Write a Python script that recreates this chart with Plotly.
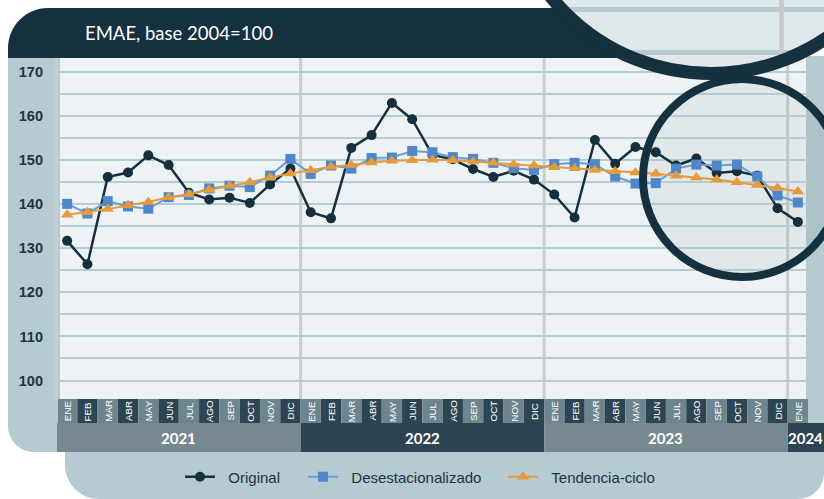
import plotly.graph_objects as go

# ---------------- data ----------------
months = ["ENE", "FEB", "MAR", "ABR", "MAY", "JUN", "JUL", "AGO", "SEP", "OCT", "NOV", "DIC"]
years = ["2021", "2022", "2023", "2024"]
month_labels = months * 3 + ["ENE"]
x_idx = list(range(len(month_labels)))

original = [131.7, 126.4, 146.2, 147.2, 151.1, 148.9, 142.6, 141.1, 141.5, 140.3, 144.5, 148.1,
            138.2, 136.8, 152.8, 155.7, 163.0, 159.3, 151.2, 150.2, 148.0, 146.2, 147.6, 145.6,
            142.2, 137.0, 154.6, 149.2, 153.0, 151.8, 148.8, 150.4, 147.1, 147.5, 146.5, 139.1, 136.0]
desestacionalizado = [140.1, 137.9, 140.7, 139.5, 139.0, 141.6, 142.1, 143.6, 144.2, 143.9, 146.5, 150.3,
                      146.9, 148.8, 148.1, 150.5, 150.6, 152.1, 151.8, 150.7, 150.3, 149.4, 148.2, 147.8,
                      149.1, 149.4, 149.1, 146.3, 144.7, 144.8, 148.1, 149.0, 148.8, 149.0, 146.3, 142.0, 140.4]
tendencia = [137.6, 138.2, 138.9, 139.8, 140.5, 141.6, 142.3, 143.3, 144.2, 145.0, 146.1, 147.0,
             147.7, 148.5, 148.9, 149.5, 149.9, 150.0, 150.1, 150.0, 149.7, 149.4, 149.0, 148.8,
             148.4, 148.2, 147.8, 147.5, 147.2, 146.9, 146.5, 146.1, 145.6, 145.0, 144.4, 143.7, 142.9]

y_ticks = list(range(100, 171, 5))
y_ticktext = [str(v) if v % 10 == 0 else "" for v in y_ticks]

# ---------------- geometry helpers ----------------
W, H = 824, 499
ML, MR, MT, MB = 58, 16, 58, 100
PW, PH = W - ML - MR, H - MT - MB
XMIN, XMAX = -0.45, 36.5
YMIN, YMAX = 95.8, 173.2


def PX(x):
    return (x - ML) / PW


def PY(y):
    return (MT + PH - y) / PH


def D2P(i):
    return (i - XMIN) / (XMAX - XMIN)


def pt(x, y):
    return f"{PX(x):.5f},{PY(y):.5f}"


def rrect(x0, y0, x1, y1, tl=0, tr=0, br=0, bl=0):
    k = 0.5523
    p = f"M{pt(x0 + tl, y0)} L{pt(x1 - tr, y0)} "
    if tr:
        p += f"C{pt(x1 - tr + tr * k, y0)} {pt(x1, y0 + tr - tr * k)} {pt(x1, y0 + tr)} "
    p += f"L{pt(x1, y1 - br)} "
    if br:
        p += f"C{pt(x1, y1 - br + br * k)} {pt(x1 - br + br * k, y1)} {pt(x1 - br, y1)} "
    p += f"L{pt(x0 + bl, y1)} "
    if bl:
        p += f"C{pt(x0 + bl - bl * k, y1)} {pt(x0, y1 - bl + bl * k)} {pt(x0, y1 - bl)} "
    p += f"L{pt(x0, y0 + tl)} "
    if tl:
        p += f"C{pt(x0, y0 + tl - tl * k)} {pt(x0 + tl - tl * k, y0)} {pt(x0 + tl, y0)} "
    return p + "Z"


def circ(cx, cy, r, **kw):
    return dict(type="circle", xref="paper", yref="paper",
                x0=PX(cx - r), x1=PX(cx + r), y0=PY(cy + r), y1=PY(cy - r), **kw)


DARK = "#15303f"
BAND = "#b6cbd1"
SANS = "Liberation Sans, Arial, Helvetica"
TITLEF = "Lato, Roboto, Liberation Sans"

shapes = []
# side bands / legend region (below the axis labels)
shapes.append(dict(type="path", xref="paper", yref="paper", layer="below",
                   path=rrect(8, 50, 60, 452, bl=26), fillcolor=BAND, line_width=0))
shapes.append(dict(type="path", xref="paper", yref="paper", layer="below",
                   path=rrect(806, 56, 824, 470), fillcolor=BAND, line_width=0))
shapes.append(dict(type="path", xref="paper", yref="paper", layer="below",
                   path=rrect(65, 450, 824, 499, bl=34, br=26), fillcolor=BAND, line_width=0))
# title band
shapes.append(dict(type="path", xref="paper", yref="paper", layer="below",
                   path=rrect(8, 8, 730, 58, tl=40), fillcolor=DARK, line_width=0))
# left border of panel
shapes.append(dict(type="line", xref="paper", yref="paper", layer="above",
                   x0=PX(56.5), x1=PX(56.5), y0=0, y1=1, line=dict(color="#c9cdd0", width=3)))
# year separators
for s in [11.5, 23.5, 35.5]:
    shapes.append(dict(type="line", xref="x", yref="paper", layer="between",
                       x0=s, x1=s, y0=0, y1=1, line=dict(color="#cbcccd", width=3)))

# big lens (top right)
BCX, BCY = 711, -132
shapes.append(circ(BCX, BCY, 208, layer="above", fillcolor="#dfe8eb", line_width=0))
shapes.append(dict(type="line", xref="paper", yref="paper", layer="above",
                   x0=PX(560), x1=PX(860), y0=PY(9.5), y1=PY(9.5), line=dict(color=BAND, width=5)))
shapes.append(dict(type="line", xref="paper", yref="paper", layer="above",
                   x0=PX(620), x1=PX(800), y0=PY(52.5), y1=PY(52.5), line=dict(color=BAND, width=5)))
shapes.append(dict(type="line", xref="paper", yref="paper", layer="above",
                   x0=PX(781.5), x1=PX(781.5), y0=PY(0), y1=PY(60), line=dict(color="#c9c9ca", width=4.5)))
shapes.append(circ(BCX, BCY, 205.5, layer="above", fillcolor="rgba(0,0,0,0)",
                   line=dict(color=DARK, width=13)))

# small lens
SCX, SCY = 742, 178
shapes.append(circ(SCX, SCY, 99, layer="between", fillcolor="rgba(20,60,75,0.06)", line_width=0))
shapes.append(circ(SCX, SCY, 99, layer="above", fillcolor="rgba(0,0,0,0)",
                   line=dict(color=DARK, width=8)))

# month cells
for i, m in enumerate(month_labels):
    shapes.append(dict(type="rect", xref="x", yref="paper", layer="above",
                       x0=i - 0.5, x1=i + 0.5, y0=PY(423), y1=PY(399),
                       fillcolor="#6d858e" if i % 2 == 0 else "#2d4553", line_width=0))

# year cells
year_spans = [(-0.5, 11.5), (11.5, 23.5), (23.5, 35.5), (35.5, None)]
year_cols = ["#76898f", "#2d4553", "#76898f", "#2d4553"]
annotations = []
for (a, b), col, yr in zip(year_spans, year_cols, years):
    x0 = D2P(a)
    x1 = D2P(b) if b is not None else PX(W)
    shapes.append(dict(type="rect", xref="paper", yref="paper", layer="above",
                       x0=x0, x1=x1, y0=PY(452), y1=PY(423), fillcolor=col, line_width=0))
    annotations.append(dict(xref="paper", yref="paper", x=(x0 + x1) / 2, y=PY(438),
                            text=f"<b>{yr}</b>", showarrow=False, xanchor="center", yanchor="middle",
                            font=dict(family=TITLEF, size=15, color="white")))

for i, m in enumerate(month_labels):
    annotations.append(dict(xref="x", yref="paper", x=i, y=PY(411), text=m, textangle=-90,
                            showarrow=False, xanchor="center", yanchor="middle",
                            font=dict(family=SANS, size=9.8, color="white")))

annotations.append(dict(xref="paper", yref="paper", x=PX(179), y=PY(33), text="EMAE, base 2004=100",
                        showarrow=False, xanchor="center", yanchor="middle",
                        font=dict(family=TITLEF, size=18.5, color="white", weight=400)))

# ---------------- traces ----------------
fig = go.Figure()
fig.add_trace(go.Scatter(x=x_idx, y=original, mode="lines+markers", name="\u00a0\u00a0Original",
                         line=dict(color="#152f3d", width=2.5),
                         marker=dict(symbol="circle", size=10, color="#152f3d"), legendwidth=78))
fig.add_trace(go.Scatter(x=x_idx, y=desestacionalizado, mode="lines+markers",
                         name="\u00a0\u00a0Desestacionalizado",
                         line=dict(color="#6c9dd6", width=2),
                         marker=dict(symbol="square", size=10, color="#4f87ca"), legendwidth=155))
fig.add_trace(go.Scatter(x=x_idx, y=tendencia, mode="lines+markers", name="\u00a0\u00a0Tendencia-ciclo",
                         line=dict(color="#e59a3b", width=2),
                         marker=dict(symbol="triangle-up", size=11, color="#e59a3b"), legendwidth=130))

fig.update_layout(
    width=W, height=H,
    margin=dict(l=ML, r=MR, t=MT, b=MB, pad=0, autoexpand=False),
    paper_bgcolor="white", plot_bgcolor="#edf3f5",
    shapes=shapes, annotations=annotations,
    showlegend=True,
    legend=dict(orientation="h", x=PX(180), xanchor="left", y=PY(477), yanchor="middle",
                bgcolor="rgba(0,0,0,0)", font=dict(family=SANS, size=15, color="#1b3340"),
                traceorder="normal"),
    xaxis=dict(range=[XMIN, XMAX], showgrid=False, showticklabels=False, zeroline=False,
               showline=False, ticks=""),
    yaxis=dict(range=[YMIN, YMAX], tickvals=y_ticks, ticktext=y_ticktext, showgrid=True,
               gridcolor="#b6ccd2", gridwidth=2, zeroline=False, showline=False, ticks="",
               ticklabelstandoff=14,
               tickfont=dict(family=SANS, size=14.5, color="#1d3441", weight="bold")),
)

fig.write_html("out.html", config={"displayModeBar": False},
               post_script="document.body.style.margin='0';")
